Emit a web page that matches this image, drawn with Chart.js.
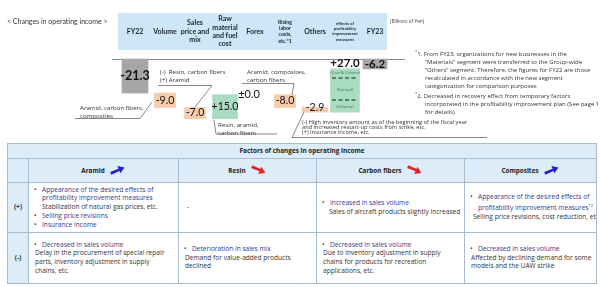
<!DOCTYPE html>
<html>
<head>
<meta charset="utf-8">
<script src="https://cdn.jsdelivr.net/npm/chart.js@4.4.1/dist/chart.umd.min.js"></script>
<style>
  body { margin: 0; background: #fff; font-family: 'Open Sans', Lato, sans-serif; }
  #wrap { position: relative; width: 600px; height: 287px; overflow: hidden; }
  #chart { position: absolute; left: 0; top: 0; }
  .t { position: absolute; white-space: nowrap; color: #222; }
  .fn { left: 413px; top: 47.5px; font-size: 6.0px; line-height: 8.1px; color: #333; }
  .fn div { padding-left: 12px; }
  .fn div.h { padding-left: 2px; }
  table { position: absolute; left: 7px; top: 143px; width: 589px; border-collapse: collapse;
          table-layout: fixed; font-size: 6.6px; line-height: 8.7px; color: #333; }
  td, th { border: 1px solid #a9bccd; padding: 0 5px; vertical-align: middle; white-space: nowrap; overflow: hidden; }
  th { background: #dcedf9; font-weight: bold; color: #222; font-size: 6.4px; }
  td.side { background: #dcedf9; text-align: center; font-weight: bold; padding: 0; }
  .b { padding-left: 8px; text-indent: -8px; color: #38388e; }
  .b::before { content: "•"; display: inline-block; width: 8px; text-indent: 0; color: #333; }
  .s { padding-left: 1px; }
  th svg { margin-left: 5px; vertical-align: -2px; }
</style>
</head>
<body>
<div id="wrap">
  <canvas id="chart" width="600" height="142"></canvas>

  <div class="t" style="left:7px;top:17px;font-size:7px;color:#333;font-family:Lato">&lt; Changes in operating income &gt;</div>
  <div class="t" style="left:390px;top:18px;font-size:4.8px;color:#444">(Billions of Yen)</div>

  <div class="t fn">
    <div class="h"><sup style="font-size:4px">*</sup>1. From FY23, organizations for new businesses in the</div>
    <div>“Materials” segment were transferred to the Group-wide</div>
    <div>“Others” segment. Therefore, the figures for FY22 are those</div>
    <div>recalculated in accordance with the new segment</div>
    <div>categorization for comparison purposes</div>
    <div class="h"><sup style="font-size:4px">*</sup>2. Decreased in recovery effect from temporary factors</div>
    <div>incorporated in the profitability improvement plan (See page 11</div>
    <div>for details)</div>
  </div>

  <table>
    <colgroup><col style="width:21px"><col style="width:150px"><col style="width:138px"><col style="width:148px"><col style="width:132px"></colgroup>
    <tr style="height:15px"><th colspan="5">Factors of changes in operating income</th></tr>
    <tr style="height:24px">
      <th></th>
      <th>Aramid<svg width="16" height="10" viewBox="0 0 16 10"><polygon points="0,4 9,4 9,1 15,5 9,9 9,6.5 0,7" transform="rotate(-22 8 5)" fill="#2222c8"/></svg></th>
      <th>Resin<svg width="16" height="10" viewBox="0 0 16 10"><polygon points="0,3.5 9,3.5 9,1 15,5 9,9 9,6 0,6.5" transform="rotate(25 8 5)" fill="#e52222"/></svg></th>
      <th>Carbon fibers<svg width="16" height="10" viewBox="0 0 16 10"><polygon points="0,3.5 9,3.5 9,1 15,5 9,9 9,6 0,6.5" transform="rotate(25 8 5)" fill="#e52222"/></svg></th>
      <th>Composites<svg width="16" height="10" viewBox="0 0 16 10"><polygon points="0,4 9,4 9,1 15,5 9,9 9,6.5 0,7" transform="rotate(-22 8 5)" fill="#2222c8"/></svg></th>
    </tr>
    <tr style="height:50px">
      <td class="side">(+)</td>
      <td>
        <div class="b">Appearance of the desired effects of<br>profitability improvement measures</div>
        <div style="padding-left:8px">Stabilization of natural gas prices, etc.</div>
        <div class="b">Selling price revisions</div>
        <div class="b">Insurance income</div>
      </td>
      <td style="padding-left:8px">-</td>
      <td>
        <div class="b">Increased in sales volume</div>
        <div style="padding-left:7px">Sales of aircraft products slightly increased</div>
      </td>
      <td>
        <div class="b">Appearance of the desired effects of<br>profitability improvement measures<sup style="font-size:4px">*2</sup></div>
        <div style="padding-left:3px">Selling price revisions, cost reduction, etc.</div>
      </td>
    </tr>
    <tr style="height:51px">
      <td class="side">(-)</td>
      <td>
        <div class="b">Decreased in sales volume</div>
        <div class="s">Delay in the procurement of special repair<br>parts, inventory adjustment in supply<br>chains, etc.</div>
      </td>
      <td>
        <div class="b">Deterioration in sales mix</div>
        <div class="s">Demand for value-added products<br>declined</div>
      </td>
      <td>
        <div class="b">Decreased in sales volume</div>
        <div class="s">Due to inventory adjustment in supply<br>chains for products for recreation<br>applications, etc.</div>
      </td>
      <td>
        <div class="b">Decreased in sales volume</div>
        <div class="s">Affected by declining demand for some<br>models and the UAW strike</div>
      </td>
    </tr>
  </table>
</div>

<script>
// ---- data (billions of yen) ----
const categories = ['FY22', 'Volume', 'Sales price and mix', 'Raw material and fuel cost', 'Forex',
    'Rising labor costs, etc.*1', 'Others', 'Effects of profitability improvement measures', 'FY23'];
const changes = [-21.3, -9.0, -7.0, 15.0, 0.0, -8.0, -2.9, 27.0, -6.2];
const changeLabels = ['-21.3', '-9.0', '-7.0', '+15.0', '±0.0', '-8.0', '-2.9', '+27.0', '-6.2'];
const barType = ['total', 'neg', 'neg', 'pos', 'flat', 'neg', 'neg', 'pos', 'total'];
// split inside the +27.0 bar (level of the dashed dividers)
const effectsDividers = [-11.9, -25.6];
const effectsParts = ['(Cost & Others)', '(Spread)', '(Volume)'];
const effectsPartLevels = [-8.6, -19.2, -29.9];

// header text, line by line
const headerLines = [
    ['FY22'], ['Volume'], ['Sales', 'price and', 'mix'], ['Raw', 'material', 'and fuel', 'cost'], ['Forex'],
    ['Rising', 'labor', 'costs,', 'etc.*1'], ['Others'], ['effects of', 'profitability', 'improvement', 'measures'], ['FY23']
];
const headerSize = [7, 7, 7, 7, 7, 5.2, 7, 4.3, 7];
const barWidth = [26, 21, 21, 25, 0, 21, 26, 29, 24];

const COLORS = { total: '#a6a6a6', neg: '#f8cbad', pos: '#a9dcc1', flat: 'rgba(0,0,0,0)' };
const FONT = "Lato, 'Open Sans', sans-serif";
const NOTE_FONT = "'Open Sans', Lato, sans-serif";

// floating ranges for the waterfall
let running = 0;
const levels = [];
const ranges = changes.map((v, i) => {
    if (barType[i] === 'total') { running = v; levels.push(v); return [0, v]; }
    const r = [running, running + v];
    running += v;
    levels.push(running);
    return r;
});

// annotation notes (text + leader lines); the slide text is a little wider than tall
const notes = [
    { x: 160, y: 72, lines: ['(-)  Resin, carbon fibers', '(+) Aramid'], path: [[158, 85.5], [212, 85.5], [195, 107]] },
    { x: 80, y: 108, lines: ['Aramid, carbon fibers,', 'composites'], path: [[75, 118.5], [140, 118.5], [152, 102]] },
    { x: 247, y: 72, lines: ['Aramid, composites,', 'carbon fibers'], path: [[242, 83.5], [294, 83.5], [292, 95]] },
    { x: 218, y: 125, lines: ['Resin, aramid,', 'carbon fibers'], path: [[214, 120], [216, 134], [277, 134]] },
    { x: 302, y: 122.5, size: 5.2, gap: 5.2, lines: ['(-) High inventory amount as of the beginning of the fiscal year',
        'and increased restart-up costs from strike, etc.', '(+) Insurance income, etc.'],
      path: [[304, 112], [292, 137.5], [487, 137.5]] }
];
const NOTE_STRETCH = 1.1;

const waterfallDecor = {
    id: 'waterfallDecor',
    beforeDraw(chart) {
        const { ctx, scales: { x, y } } = chart;
        ctx.save();
        // header band
        ctx.fillStyle = '#cde7f7';
        ctx.fillRect(118, 13, 269, 37);
        ctx.fillStyle = '#1c2433';
        ctx.textAlign = 'center';
        ctx.textBaseline = 'middle';
        headerLines.forEach((lines, i) => {
            const sz = headerSize[i];
            const lh = sz * 1.2;
            const cx = x.getPixelForValue(i);
            const top = 31.5 - (lines.length - 1) * lh / 2;
            ctx.font = `bold ${sz}px ${FONT}`;
            lines.forEach((t, k) => ctx.fillText(t, cx, top + k * lh));
        });
        // zero line
        ctx.strokeStyle = '#8a8a8a';
        ctx.lineWidth = 1;
        const y0 = Math.round(y.getPixelForValue(0)) + 0.5;
        ctx.beginPath();
        ctx.moveTo(112, y0);
        ctx.lineTo(405, y0);
        ctx.stroke();
        ctx.restore();
    },
    afterDatasetsDraw(chart) {
        const { ctx, scales: { x, y } } = chart;
        ctx.save();
        // dashed dividers inside the effects bar
        const eIdx = 7;
        const eBar = chart.getDatasetMeta(eIdx).data[eIdx];
        ctx.strokeStyle = '#2f6b4c';
        ctx.lineWidth = 1.6;
        ctx.setLineDash([4, 2.5]);
        effectsDividers.forEach(v => {
            const py = y.getPixelForValue(v);
            ctx.beginPath();
            ctx.moveTo(eBar.x - 13, py);
            ctx.lineTo(eBar.x + 13, py);
            ctx.stroke();
        });
        ctx.setLineDash([]);
        ctx.fillStyle = '#4d6b58';
        ctx.font = `4.2px ${NOTE_FONT}`;
        ctx.textAlign = 'center';
        ctx.textBaseline = 'middle';
        effectsParts.forEach((t, k) => ctx.fillText(t, eBar.x, y.getPixelForValue(effectsPartLevels[k])));

        // value labels
        ctx.fillStyle = '#111';
        changes.forEach((v, i) => {
            const bar = chart.getDatasetMeta(i).data[i];
            let px = bar.x, py = (bar.y + bar.base) / 2, sz = 10.5, wt = '';
            if (barType[i] === 'flat') { px = x.getPixelForValue(i) - 6; py = y.getPixelForValue(levels[i]); sz = 11; }
            if (i === 0) { sz = 12.5; wt = 'bold '; }
            if (i === 7) { py = Math.min(bar.y, bar.base) - 6; sz = 11.5; wt = 'bold '; }
            if (i === 8) { sz = 11.5; wt = 'bold '; }
            if (i === 6) { py -= 2; }
            ctx.font = `${wt}${sz}px ${FONT}`;
            ctx.fillText(changeLabels[i], px, py);
        });

        // notes with leader lines
        ctx.textAlign = 'left';
        ctx.fillStyle = '#333';
        ctx.strokeStyle = '#555';
        ctx.lineWidth = 0.7;
        notes.forEach(n => {
            const sz = n.size || 5.6, gap = n.gap || 8;
            ctx.font = `${sz}px ${NOTE_FONT}`;
            n.lines.forEach((t, k) => {
                ctx.save();
                ctx.translate(n.x, n.y + k * gap);
                ctx.scale(NOTE_STRETCH, 1);
                ctx.fillText(t, 0, 0);
                ctx.restore();
            });
            ctx.beginPath();
            n.path.forEach((p, k) => k ? ctx.lineTo(p[0], p[1]) : ctx.moveTo(p[0], p[1]));
            ctx.stroke();
        });
        ctx.restore();
    }
};

new Chart(document.getElementById('chart'), {
    type: 'bar',
    data: {
        labels: categories,
        datasets: categories.map((c, i) => ({
            label: c,
            data: categories.map((_, j) => (j === i ? ranges[i] : null)),
            backgroundColor: COLORS[barType[i]],
            barThickness: barWidth[i] || 1,
            borderWidth: 0,
            grouped: false
        }))
    },
    options: {
        responsive: false,
        animation: false,
        layout: { padding: { left: 120, right: 210, top: 50, bottom: 12 } },
        plugins: { legend: { display: false }, tooltip: { enabled: false } },
        scales: {
            x: { display: false, offset: true },
            y: { display: false, min: -44.375, max: 5.625 }
        }
    },
    plugins: [waterfallDecor]
});
</script>
</body>
</html>
